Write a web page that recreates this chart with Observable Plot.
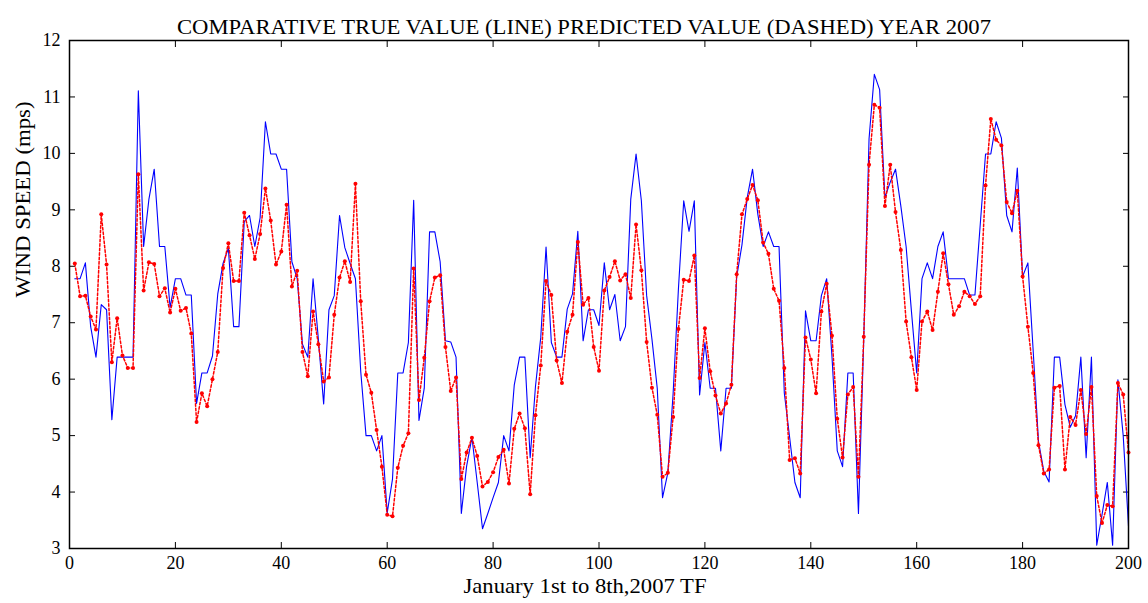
<!DOCTYPE html>
<html>
<head>
<meta charset="utf-8">
<script src="https://cdn.jsdelivr.net/npm/d3@7"></script>
<script src="https://cdn.jsdelivr.net/npm/@observablehq/plot@0.6"></script>
<style>
  html, body { margin: 0; padding: 0; background: white; }
</style>
</head>
<body>
<div id="chart"></div>
<script>
const titleText = "COMPARATIVE TRUE VALUE (LINE) PREDICTED VALUE (DASHED) YEAR 2007";
const xLabelText = "January 1st to 8th,2007 TF";
const yLabelText = "WIND SPEED (mps)";
const xTicks = [0, 20, 40, 60, 80, 100, 120, 140, 160, 180, 200];
const yTicks = [3, 4, 5, 6, 7, 8, 9, 10, 11, 12];

// True value (solid blue line), samples 1..200
const trueSpeed = [
  7.78, 7.78, 8.06, 6.93, 6.39, 7.32, 7.23, 5.28, 6.39, 6.39,
  6.39, 6.39, 11.11, 8.35, 9.19, 9.72, 8.35, 8.35, 7.27, 7.78,
  7.78, 7.49, 7.49, 5.57, 6.11, 6.11, 6.41, 7.51, 8.05, 8.32,
  6.93, 6.93, 8.79, 8.90, 8.35, 8.86, 10.56, 9.99, 9.99, 9.72,
  9.72, 8.08, 7.78, 6.62, 6.39, 7.78, 6.71, 5.56, 7.23, 7.48,
  8.90, 8.33, 8.05, 7.78, 6.14, 5.00, 5.00, 4.73, 5.00, 3.63,
  4.23, 6.11, 6.11, 6.65, 9.17, 5.27, 5.84, 8.61, 8.61, 8.08,
  6.68, 6.66, 6.39, 3.62, 4.46, 4.97, 4.17, 3.35, 3.62, 3.90,
  4.17, 5.00, 4.73, 5.90, 6.39, 6.39, 4.61, 5.87, 6.74, 8.34,
  6.65, 6.39, 6.39, 7.24, 7.51, 8.62, 6.68, 7.23, 7.23, 6.95,
  8.06, 7.23, 7.50, 6.68, 6.93, 9.19, 9.99, 9.16, 7.48, 6.71,
  5.84, 3.90, 4.34, 5.75, 7.60, 9.16, 8.62, 9.16, 5.72, 6.65,
  5.84, 5.84, 4.73, 5.84, 5.84, 7.81, 8.38, 9.22, 9.72, 8.92,
  8.35, 8.61, 8.35, 8.35, 5.75, 4.97, 4.17, 3.90, 7.21, 6.68,
  6.68, 7.48, 7.78, 6.40, 4.73, 4.45, 6.11, 6.11, 3.62, 6.70,
  10.26, 11.40, 11.13, 9.22, 9.49, 9.72, 9.07, 8.35, 7.21, 6.11,
  7.78, 8.06, 7.78, 8.35, 8.61, 7.78, 7.78, 7.78, 7.78, 7.49,
  7.49, 8.74, 9.99, 9.99, 10.56, 10.27, 8.90, 8.61, 9.74, 7.82,
  8.06, 6.50, 4.90, 4.37, 4.18, 6.39, 6.39, 5.55, 5.15, 5.35,
  6.39, 4.61, 6.39, 3.06, 3.60, 4.17, 3.06, 5.99, 5.00, 3.40
];

// Predicted value (dashed red line with dots), samples 1..200
const predSpeed = [
  8.05, 7.47, 7.48, 7.11, 6.88, 8.92, 8.03, 6.30, 7.08, 6.42,
  6.20, 6.20, 9.63, 7.57, 8.07, 8.04, 7.47, 7.61, 7.18, 7.60,
  7.21, 7.26, 6.81, 5.24, 5.75, 5.52, 6.00, 6.48, 7.97, 8.41,
  7.74, 7.74, 8.95, 8.55, 8.13, 8.57, 9.38, 8.81, 8.03, 8.26,
  9.09, 7.64, 7.92, 6.48, 6.05, 7.20, 6.62, 5.96, 6.03, 7.14,
  7.80, 8.09, 7.72, 9.46, 7.38, 6.08, 5.76, 5.10, 4.45, 3.60,
  3.57, 4.43, 4.82, 5.04, 7.96, 5.63, 6.38, 7.38, 7.80, 7.84,
  6.57, 5.79, 6.03, 4.23, 4.70, 4.96, 4.64, 4.10, 4.18, 4.35,
  4.62, 4.75, 4.15, 5.12, 5.39, 5.13, 3.96, 5.36, 6.24, 7.74,
  7.49, 6.33, 5.93, 6.84, 7.14, 8.43, 7.32, 7.44, 6.57, 6.15,
  7.57, 7.81, 8.09, 7.75, 7.86, 7.44, 8.74, 7.93, 6.66, 5.85,
  5.37, 4.27, 4.34, 5.33, 6.89, 7.76, 7.74, 8.19, 6.02, 6.90,
  6.14, 5.71, 5.39, 5.57, 5.90, 7.86, 8.92, 9.19, 9.44, 9.17,
  8.42, 8.22, 7.60, 7.39, 6.20, 4.57, 4.60, 4.33, 6.74, 6.35,
  5.75, 7.20, 7.69, 6.77, 5.30, 4.61, 5.73, 5.86, 4.27, 6.75,
  9.80, 10.86, 10.81, 9.07, 9.80, 8.96, 8.29, 7.02, 6.39, 5.81,
  7.02, 7.20, 6.87, 7.55, 8.23, 7.68, 7.14, 7.29, 7.55, 7.47,
  7.33, 7.47, 9.43, 10.61, 10.24, 10.14, 9.14, 8.94, 9.34, 7.82,
  6.93, 6.11, 4.83, 4.33, 4.40, 5.85, 5.88, 4.40, 5.33, 5.19,
  5.81, 5.03, 5.86, 3.93, 3.45, 3.77, 3.75, 5.93, 5.73, 4.70
];

const rows = trueSpeed.map((t, k) => ({ i: k + 1, t, p: predSpeed[k] }));
const serif = "'Liberation Serif', 'Times New Roman', Times, serif";

const chart = Plot.plot({
  width: 1148,
  height: 603,
  marginLeft: 69,
  marginRight: 20,
  marginTop: 40,
  marginBottom: 55,
  style: { fontFamily: serif, fontSize: "18px", background: "white", color: "black" },
  x: { domain: [0, 200], label: null },
  y: { domain: [3, 12], label: null },
  marks: [
    Plot.axisX({ anchor: "bottom", ticks: xTicks, tickSize: -6, tickPadding: 14, label: null, fontSize: 18 }),
    Plot.axisX({ anchor: "top", ticks: xTicks, tickSize: -6, tickFormat: () => "", label: null }),
    Plot.axisY({ anchor: "left", ticks: yTicks, tickSize: -6, tickPadding: 15, label: null, fontSize: 18 }),
    Plot.axisY({ anchor: "right", ticks: yTicks, tickSize: -6, tickFormat: () => "", label: null }),
    Plot.line(rows, { x: "i", y: "t", stroke: "#0000ff", strokeWidth: 1.1 }),
    Plot.line(rows, { x: "i", y: "p", stroke: "#ff0000", strokeWidth: 1.5, strokeDasharray: "2.5,2" }),
    Plot.dot(rows, { x: "i", y: "p", r: 2, fill: "#ff0000", stroke: "none" }),
    Plot.frame({ stroke: "black", strokeWidth: 1.5 }),
    Plot.text([titleText], { text: d => d, frameAnchor: "top", dy: -22, dx: -15, fontSize: 22, fill: "black" }),
    Plot.text([xLabelText], { text: d => d, frameAnchor: "bottom", dy: 44, dx: -14, fontSize: 22, fill: "black" }),
    Plot.text([yLabelText], { text: d => d, frameAnchor: "left", dx: -47, dy: 3, rotate: -90, fontSize: 22, fill: "black" })
  ]
});

document.getElementById("chart").appendChild(chart);

// squeeze long labels to the reference widths (keeps them as real text)
const fits = { [titleText]: 814, [xLabelText]: 243, [yLabelText]: 196 };
d3.select(chart).selectAll("text").each(function () {
  const s = this.textContent;
  if (fits[s]) {
    this.setAttribute("textLength", fits[s]);
    this.setAttribute("lengthAdjust", "spacingAndGlyphs");
  }
});
</script>
</body>
</html>
